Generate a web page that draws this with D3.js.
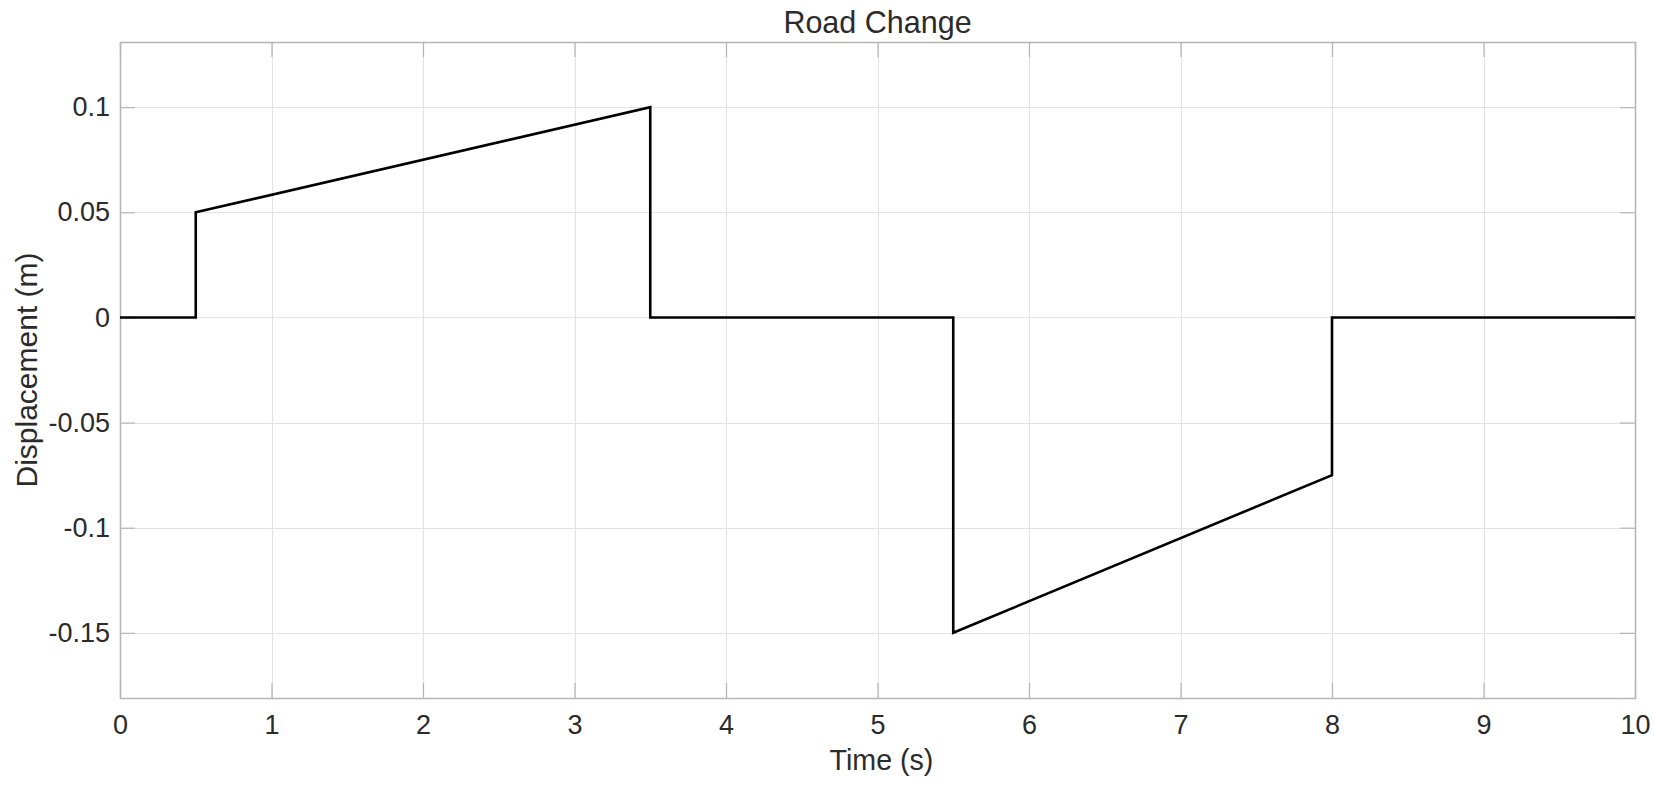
<!DOCTYPE html>
<html>
<head>
<meta charset="utf-8">
<script src="https://cdn.jsdelivr.net/npm/d3@7"></script>
<style>
  body { margin: 0; background: #fff; }
  svg { display: block; font-family: "Liberation Sans", Arial, Helvetica, sans-serif; }
</style>
</head>
<body>
<svg id="chart" width="1654" height="787"></svg>
<script>
// road profile (time in s, displacement in m)
var times  = [0, 0.5, 0.5, 3.5, 3.5, 5.5, 5.5, 8, 8, 10];
var displs = [0, 0, 0.05, 0.1, 0, 0, -0.15, -0.075, 0, 0];

var xTicks = [0, 1, 2, 3, 4, 5, 6, 7, 8, 9, 10];
var xTickLabels = ["0", "1", "2", "3", "4", "5", "6", "7", "8", "9", "10"];
var yTicks = [0.1, 0.05, 0, -0.05, -0.1, -0.15];
var yTickLabels = ["0.1", "0.05", "0", "-0.05", "-0.1", "-0.15"];

var title = "Road Change",
    xLabel = "Time (s)",
    yLabel = "Displacement (m)";

// plot box edges (window.top is reserved, so plotTop etc.)
var plotLeft = 120, plotRight = 1635, plotTop = 42, plotBottom = 698;

var svg = d3.select('#chart');

var x = d3.scaleLinear().domain([0, 10]).range([plotLeft, plotRight]),
    y = d3.scaleLinear().domain([-0.181, 0.131]).range([plotBottom, plotTop]);

var gridColor = '#e3e3e3',
    boxColor = '#b5b5b5',
    textColor = '#2b2b2b';

// grid
svg.append('g').selectAll('line').data(xTicks).enter().append('line')
  .attr('x1', function(d) { return Math.round(x(d)) + 0.5; })
  .attr('x2', function(d) { return Math.round(x(d)) + 0.5; })
  .attr('y1', plotTop).attr('y2', plotBottom)
  .attr('stroke', gridColor).attr('stroke-width', 1.2);

svg.append('g').selectAll('line').data(yTicks).enter().append('line')
  .attr('y1', function(d) { return Math.round(y(d)) + 0.5; })
  .attr('y2', function(d) { return Math.round(y(d)) + 0.5; })
  .attr('x1', plotLeft).attr('x2', plotRight)
  .attr('stroke', gridColor).attr('stroke-width', 1.2);

// axes, ticks pointing inward
var tickLen = 15;
function styleAxis(g) {
  g.select('.domain').remove();
  g.selectAll('.tick line').attr('stroke', boxColor).attr('stroke-width', 1.2);
  g.selectAll('.tick text').attr('fill', textColor)
    .style('font-size', '27px');
}

var xAxis = svg.append('g')
  .attr('transform', 'translate(0,' + plotBottom + ')')
  .call(d3.axisBottom(x).tickValues(xTicks)
    .tickFormat(function(d, i) { return xTickLabels[i]; })
    .tickSizeInner(-tickLen).tickSizeOuter(0));
styleAxis(xAxis);
xAxis.selectAll('.tick text').attr('y', 17).attr('dy', '0.71em');

svg.append('g')
  .attr('transform', 'translate(0,' + plotTop + ')')
  .call(d3.axisTop(x).tickValues(xTicks).tickFormat('')
    .tickSizeInner(-tickLen).tickSizeOuter(0))
  .call(styleAxis);

var yAxis = svg.append('g')
  .attr('transform', 'translate(' + plotLeft + ',0)')
  .call(d3.axisLeft(y).tickValues(yTicks)
    .tickFormat(function(d, i) { return yTickLabels[i]; })
    .tickSizeInner(-tickLen).tickSizeOuter(0));
styleAxis(yAxis);
yAxis.selectAll('.tick text').attr('x', -10);

svg.append('g')
  .attr('transform', 'translate(' + plotRight + ',0)')
  .call(d3.axisRight(y).tickValues(yTicks).tickFormat('')
    .tickSizeInner(-tickLen).tickSizeOuter(0))
  .call(styleAxis);

// box
svg.append('rect')
  .attr('x', plotLeft + 0.5).attr('y', plotTop + 0.5)
  .attr('width', plotRight - plotLeft).attr('height', plotBottom - plotTop)
  .attr('fill', 'none').attr('stroke', boxColor).attr('stroke-width', 1.5);

// the signal
var line = d3.line()
  .x(function(d) { return x(d[0]); })
  .y(function(d) { return y(d[1]); });

svg.append('path')
  .datum(d3.zip(times, displs))
  .attr('d', line)
  .attr('fill', 'none')
  .attr('stroke', '#000')
  .attr('stroke-width', 2.6)
  .attr('stroke-linejoin', 'miter');

// labels
svg.append('text')
  .attr('x', (plotLeft + plotRight) / 2).attr('y', 33)
  .attr('text-anchor', 'middle')
  .attr('fill', textColor)
  .style('font-size', '30.5px')
  .text(title);

svg.append('text')
  .attr('x', (plotLeft + plotRight) / 2 + 4).attr('y', 770)
  .attr('text-anchor', 'middle')
  .attr('fill', textColor)
  .style('font-size', '28.6px')
  .text(xLabel);

svg.append('text')
  .attr('transform', 'translate(37,' + (plotTop + plotBottom) / 2 + ') rotate(-90)')
  .attr('text-anchor', 'middle')
  .attr('fill', textColor)
  .style('font-size', '30px')
  .text(yLabel);
</script>
</body>
</html>
